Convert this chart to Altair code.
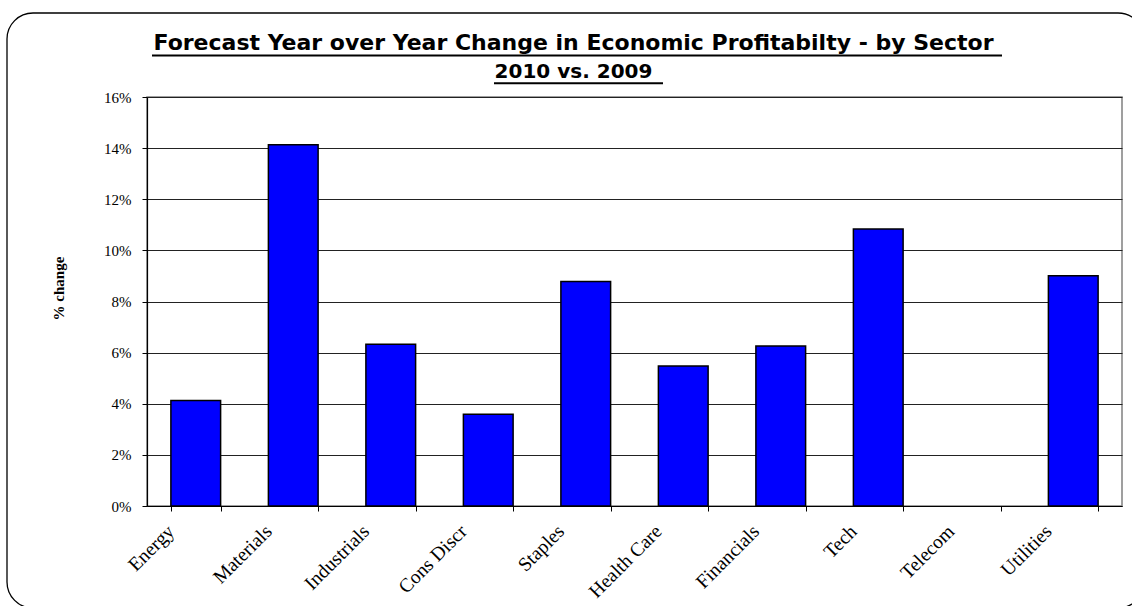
import altair as alt
import pandas as pd

# ---- data ----
sectors = ["Energy", "Materials", "Industrials", "Cons Discr", "Staples",
           "Health Care", "Financials", "Tech", "Telecom", "Utilities"]
changes = [0.0413, 0.1413, 0.0633, 0.0359, 0.0878,
           0.0548, 0.0626, 0.1084, 0.0, 0.0901]
y_ticks = [0.0, 0.02, 0.04, 0.06, 0.08, 0.10, 0.12, 0.14, 0.16]
title_lines = ["Forecast Year over Year Change in Economic Profitabilty - by Sector",
               "2010 vs. 2009"]
y_title = "% change"

W, H = 975, 409
PAD = {"left": 147, "top": 97, "right": 1132 - 147 - W, "bottom": 606 - 97 - H}

df = pd.DataFrame({"sector": sectors, "change": changes})
one = pd.DataFrame({"k": [0]})

bars = alt.Chart(df).transform_filter("datum.change > 0").mark_bar(
    color="#0000FF", stroke="#000000", strokeWidth=1.5
).encode(
    x=alt.X("sector:N", sort=sectors,
            scale=alt.Scale(domain=sectors, paddingInner=0.49, paddingOuter=0.245),
            axis=alt.Axis(title=None, labelAngle=-45, labelAlign="right",
                          labelBaseline="middle", labelFont="Liberation Serif",
                          labelFontSize=19.5, labelColor="#000000",
                          labelOffset=-25, labelPadding=17,
                          tickBand="extent", tickSize=5, tickColor="#000000",
                          domainColor="#000000", domainWidth=1.2, grid=False)),
    y=alt.Y("change:Q",
            scale=alt.Scale(domain=[0, 0.16], nice=False, zero=True),
            axis=alt.Axis(values=y_ticks, format=".0%", title=y_title,
                          titleFont="Liberation Serif", titleFontWeight="bold",
                          titleFontSize=15, titleColor="#000000",
                          titleAngle=-90, titleX=-89, titleY=191,
                          titleAlign="center", titleBaseline="middle",
                          labelFont="Liberation Serif", labelFontSize=15,
                          labelColor="#000000", labelPadding=11,
                          tickSize=5, tickColor="#000000",
                          domainColor="#000000", domainWidth=1.2,
                          grid=True, gridColor="#222222", gridWidth=1)),
)

border = alt.Chart(one).mark_rect(
    filled=False, stroke="#000000", strokeWidth=1.3, cornerRadius=26
).encode(x=alt.value(-140), x2=alt.value(997), y=alt.value(-84), y2=alt.value(511))

title_font = "DejaVu Sans"
t1 = alt.Chart(one).mark_text(
    font=title_font, fontWeight="bold", fontSize=22, align="center",
    baseline="alphabetic", color="#000000"
).encode(x=alt.value(426.5), y=alt.value(-47), text=alt.value(title_lines[0]))
t2 = alt.Chart(one).mark_text(
    font=title_font, fontWeight="bold", fontSize=20, align="center",
    baseline="alphabetic", color="#000000"
).encode(x=alt.value(426.5), y=alt.value(-19), text=alt.value(title_lines[1]))

u1 = alt.Chart(one).mark_rule(color="#000000", strokeWidth=2).encode(
    x=alt.value(5), x2=alt.value(855), y=alt.value(-41.5))
u2 = alt.Chart(one).mark_rule(color="#000000", strokeWidth=2).encode(
    x=alt.value(347), x2=alt.value(516), y=alt.value(-13.7))

chart = alt.layer(border, bars, t1, t2, u1, u2).properties(
    width=W, height=H, padding=PAD,
    autosize=alt.AutoSizeParams(type="none"),
    background="#FFFFFF",
).configure_view(stroke="#808080", strokeWidth=1.5)

chart.save("out.html", embed_options={"renderer": "svg", "actions": False})
